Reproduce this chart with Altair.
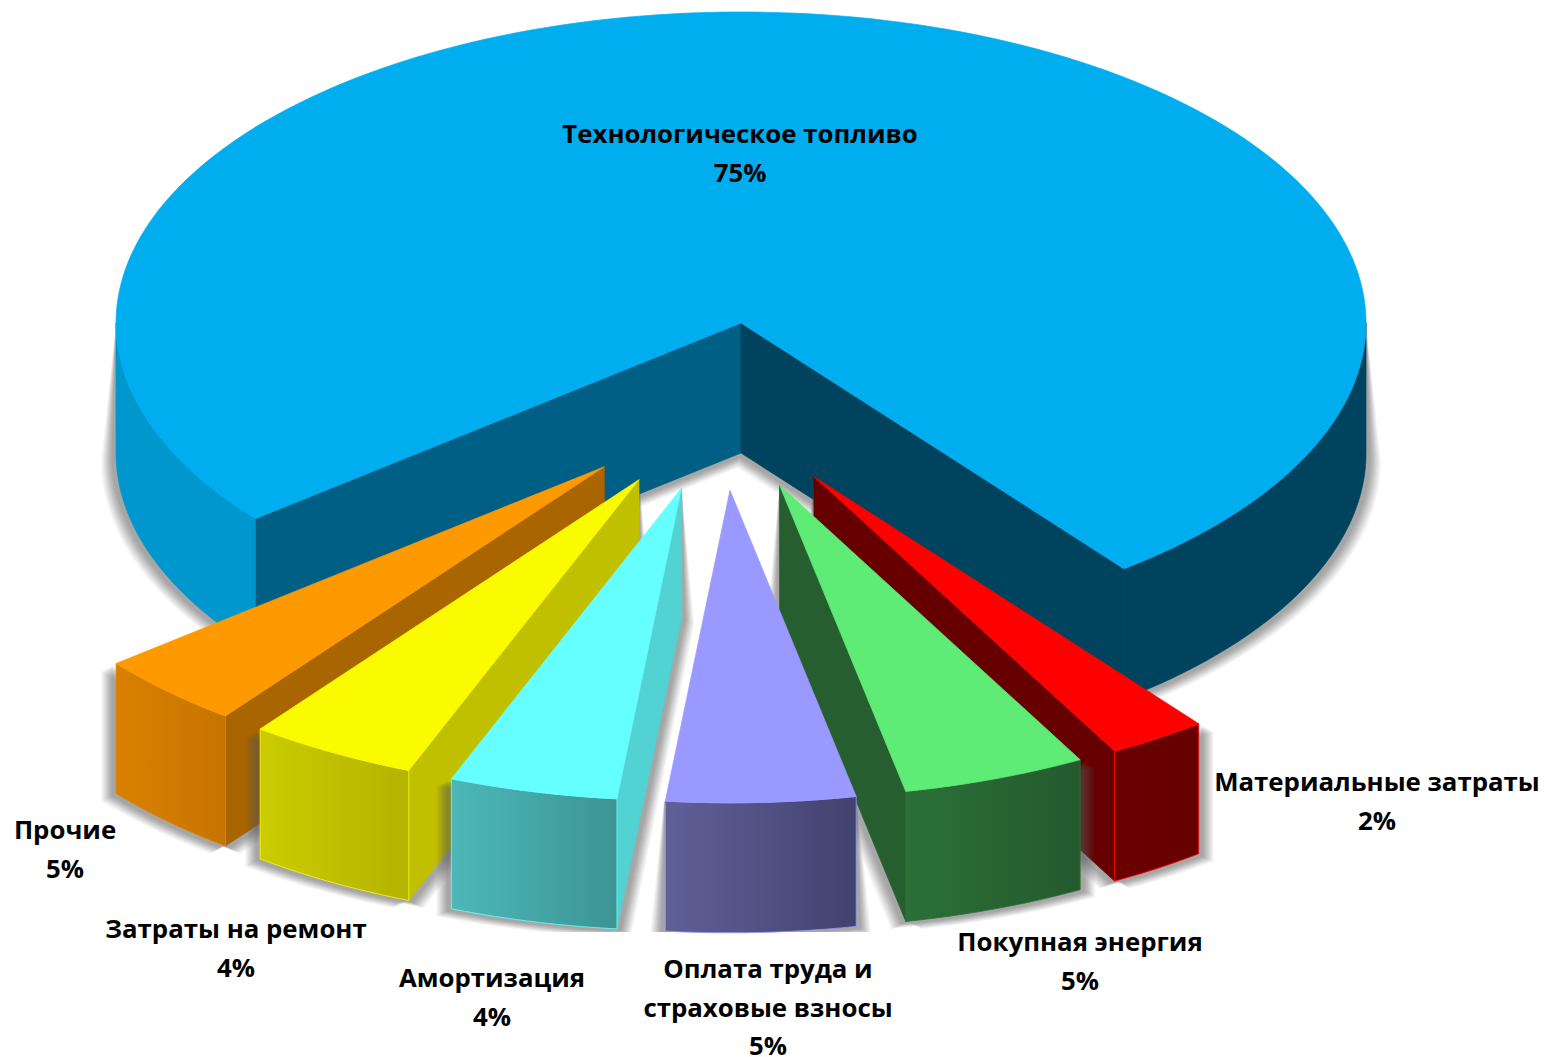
import math
import altair as alt
import pandas as pd

# --- data ---
NAMES = [
    ["Технологическое топливо"],
    ["Материальные затраты"],
    ["Покупная энергия"],
    ["Оплата труда и", "страховые взносы"],
    ["Амортизация"],
    ["Затраты на ремонт"],
    ["Прочие"],
]
SHOWN_PCT = [75, 2, 5, 5, 4, 4, 5]           # printed labels
DRAWN_PCT = [75.31, 2.55, 4.72, 4.86, 4.33, 4.33, 3.86]  # slice sizes as drawn

# --- styles ---
TOP = ["#00AEEF", "#FF0000", "#5EEB76", "#9999FF", "#66FFFF", "#FBFB00", "#FF9900"]
RIM_L = ["#0096CE", "#6B0000", "#2B7038", "#606099", "#4DB8B8", "#CCCC00", "#D98000"]
RIM_R = ["#00435E", "#660000", "#245A2E", "#42426F", "#3D9494", "#B3B300", "#C67400"]
RIM_EDGE = ["#00AEEF", "#FF0000", "#2B7038", "#9999FF", "#66FFFF", "#FBFB00", "#E08800"]
WALL_START = ["#005F85", None, None, None, "#52D2D2", "#C0C000", "#A86500"]
WALL_END = ["#00435E", "#660000", "#265E2F", None, None, None, None]
DRAW_ORDER = [0, 1, 2, 6, 5, 4, 3]

# --- 3-D pie geometry (image pixels) ---
CX, CY, RX, RY, DEPTH, EXPLODE = 721.6, 406.4, 625, 311, 130, 0.27
SLICE_GROW = 1.005
START_DEG = 231.0
W, H = 1532, 1060
SHADOW_LEVELS = [(15, 0.06), (13.5, 0.07), (12, 0.08), (10.5, 0.09), (9, 0.1), (7.5, 0.1), (6, 0.1), (4.5, 0.1)]
SHADOW_FLOOR = 932

def ground(theta, r=1.0):
    t = math.radians(theta)
    return RX * r * math.sin(t), -RY * r * math.cos(t)

def rim(t0, t1, r):
    n = max(2, int(abs(t1 - t0) / 1.5) + 1)
    return [ground(t0 + (t1 - t0) * i / n, r) for i in range(n + 1)]

def orient(poly):
    area = sum(poly[i][0] * poly[(i + 1) % len(poly)][1] - poly[(i + 1) % len(poly)][0] * poly[i][1]
               for i in range(len(poly)))
    return poly if area > 0 else poly[::-1]

def closed(poly):
    return [[round(x, 2), round(y, 2)] for x, y in poly] + [[round(poly[0][0], 2), round(poly[0][1], 2)]]

def feature(polys):
    return {"type": "Feature", "properties": {},
            "geometry": {"type": "MultiPolygon", "coordinates": [[closed(orient(p))] for p in polys]}}

def face(polys, fill, stroke=None, width=0.7, opacity=None):
    kw = {"fill": fill, "stroke": stroke if stroke else (fill if isinstance(fill, str) else "#00000000"),
          "strokeWidth": width}
    if opacity is not None:
        kw = {"fill": fill, "fillOpacity": opacity, "strokeWidth": 0}
    return alt.Chart(alt.Data(values=[feature(polys)])).mark_geoshape(**kw).project(
        type="identity", scale=1, translate=[-8, -8])

# slice angles, clockwise from the top
total = sum(DRAWN_PCT)
spans = []
angle = START_DEG
for pct in DRAWN_PCT:
    spans.append((angle, angle + pct / total * 360))
    angle += pct / total * 360

layers = []
for i in DRAW_ORDER:
    t0, t1 = spans[i]
    grow = 1.0 if i == 0 else SLICE_GROW
    ox, oy = ground((t0 + t1) / 2, EXPLODE)
    ax, ay = CX + ox, CY + oy

    def P(x, y, drop=0):
        return (ax + x, ay + y + drop)

    top = [P(0, 0)] + [P(x, y) for x, y in rim(t0, t1, grow)]

    # outer wall: the front half of the ellipse only
    rim_polys = []
    for k in range(-1, 3):
        lo, hi = max(t0, 90 + 360 * k), min(t1, 270 + 360 * k)
        if hi > lo:
            arc = rim(lo, hi, grow)
            rim_polys.append(([P(x, y) for x, y in arc] + [P(x, y, DEPTH) for x, y in arc[::-1]], lo % 360))

    radial = []
    sx, sy = ground(t0, grow)
    ex, ey = ground(t1, grow)
    if WALL_START[i]:
        radial.append(([P(0, 0), P(sx, sy), P(sx, sy, DEPTH), P(0, 0, DEPTH)], WALL_START[i]))
    if WALL_END[i]:
        radial.append(([P(0, 0), P(ex, ey), P(ex, ey, DEPTH), P(0, 0, DEPTH)], WALL_END[i]))

    # soft shadow: the walls spread sideways, growing towards the bottom
    sil = [r[0] for r in rim_polys] + [r[0] for r in radial]
    ys = [p[1] for poly in sil for p in poly]
    y0, y1 = min(ys), max(ys)
    for d, op in SHADOW_LEVELS:
        sh = []
        for sign in (-1, 1):
            for poly in sil:
                q = []
                for x, y in poly:
                    g = min(1.0, (y - y0) / (0.35 * (y1 - y0)))
                    q.append((x + sign * d * g, min(SHADOW_FLOOR if i else 9999, y + d * 0.5 * g)))
                sh.append(q)
        layers.append(face(sh, "#555555", opacity=op))

    for poly, col in radial:
        layers.append(face([poly], col))
    for poly, lo in rim_polys:
        if i == 0:
            layers.append(face([poly], RIM_L[i] if lo > 180 else RIM_R[i]))
        else:
            grad = alt.Gradient(gradient="linear", x1=0, x2=1, y1=0, y2=0,
                                stops=[alt.GradientStop(offset=0, color=RIM_L[i]),
                                       alt.GradientStop(offset=1, color=RIM_R[i])])
            layers.append(face([poly], grad, stroke=RIM_EDGE[i], width=0.8))
    layers.append(face([top], TOP[i]))

# --- labels ---
LABEL_X = [740, 1377, 1080, 768, 492, 236, 65]
LABEL_Y = [135, 783, 943, 970, 979, 930, 831]
LINE_STEP = 38.7
rows = []
for name, pct, lx, ly in zip(NAMES, SHOWN_PCT, LABEL_X, LABEL_Y):
    for j, line in enumerate(name + [f"{pct}%"]):
        rows.append({"text": line, "px": lx - 8, "py": ly - 8 + j * LINE_STEP})
labels = alt.Chart(pd.DataFrame(rows)).mark_text(
    font="Open Sans", fontWeight="bold", fontSize=25.8, color="#000000", align="center", baseline="middle"
).encode(
    x=alt.X("px:Q", scale=None, axis=None),
    y=alt.Y("py:Q", scale=None, axis=None),
    text="text:N",
)

chart = alt.layer(*layers, labels).properties(
    width=W, height=H, padding=0, autosize=alt.AutoSizeParams(type="none")
).configure_view(stroke=None)

chart.save("out.html", embed_options={"renderer": "svg", "actions": False})
